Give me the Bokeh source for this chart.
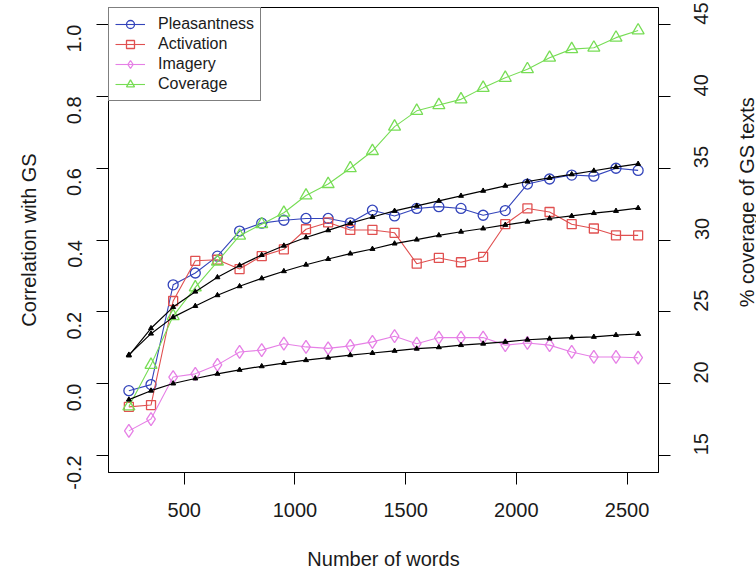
import math
from bokeh.plotting import figure
from bokeh.layouts import row
from bokeh.models import (Range1d, LinearAxis, FixedTicker, Legend, LegendItem,
                          PrintfTickFormatter)
from bokeh.core.properties import value
from bokeh.embed import file_html
from bokeh.resources import INLINE

# ---- data ----
words = [250, 350, 450, 550, 650, 750, 850, 950, 1050, 1150, 1250, 1350,
         1450, 1550, 1650, 1750, 1850, 1950, 2050, 2150, 2250, 2350, 2450, 2550]

pleasantness = [-0.020, -0.003, 0.275, 0.308, 0.355, 0.425, 0.447, 0.455, 0.460, 0.460,
                0.448, 0.483, 0.467, 0.488, 0.493, 0.488, 0.469, 0.482, 0.556, 0.570,
                0.581, 0.578, 0.600, 0.594]
activation = [-0.065, -0.060, 0.230, 0.342, 0.345, 0.319, 0.355, 0.374, 0.430, 0.449,
              0.428, 0.428, 0.420, 0.334, 0.350, 0.338, 0.353, 0.444, 0.488, 0.478,
              0.444, 0.432, 0.413, 0.413]
imagery = [-0.132, -0.099, 0.018, 0.027, 0.052, 0.088, 0.093, 0.111, 0.102, 0.098,
           0.105, 0.116, 0.132, 0.111, 0.128, 0.128, 0.128, 0.107, 0.113, 0.107,
           0.088, 0.074, 0.074, 0.072]
coverage = [18.4, 21.3, 24.7, 26.7, 28.5, 30.3, 31.1, 31.9, 33.1, 33.9, 35.0, 36.2,
            37.9, 39.0, 39.4, 39.8, 40.6, 41.3, 41.9, 42.7, 43.3, 43.4, 44.1, 44.6]

fit_pleasantness = [0.078, 0.154, 0.213, 0.256, 0.296, 0.329, 0.358, 0.384, 0.407, 0.427,
                    0.447, 0.464, 0.481, 0.495, 0.509, 0.523, 0.537, 0.551, 0.563, 0.573,
                    0.583, 0.593, 0.603, 0.612]
fit_activation = [0.080, 0.139, 0.185, 0.216, 0.246, 0.271, 0.293, 0.313, 0.331, 0.347,
                  0.362, 0.375, 0.390, 0.401, 0.413, 0.423, 0.432, 0.442, 0.451, 0.460,
                  0.467, 0.475, 0.481, 0.489]
fit_imagery = [-0.045, -0.020, 0.000, 0.014, 0.027, 0.038, 0.048, 0.057, 0.065, 0.072,
               0.079, 0.085, 0.091, 0.097, 0.101, 0.107, 0.111, 0.116, 0.122, 0.125,
               0.128, 0.130, 0.135, 0.138]

left_ticks = [-0.2, 0.0, 0.2, 0.4, 0.6, 0.8, 1.0]
right_ticks = [15, 20, 25, 30, 35, 40, 45]
x_ticks = [500, 1000, 1500, 2000, 2500]
right_title = "% coverage of GS texts"

FONT = "Liberation Sans"
TXT = "#1a1a1a"
BLUE = "#3344bb"
RED = "#e05050"
VIOLET = "#e680e6"
GREEN = "#77dd55"

FW, FH = 550, 465
TOP, BOTTOM, LEFT, RIGHT = 7, 100, 108, 66
TOTAL_H = TOP + FH + BOTTOM
SIDE_W = 756 - (LEFT + FW + RIGHT)

p = figure(frame_width=FW, frame_height=FH, output_backend="svg", toolbar_location=None,
           x_range=Range1d(158, 2642), y_range=Range1d(-0.248, 1.048),
           min_border_left=LEFT, min_border_right=RIGHT, min_border_top=TOP,
           min_border_bottom=BOTTOM)
p.extra_y_ranges = {"cov": Range1d(13.8, 46.2)}
p.grid.visible = False
p.outline_line_color = "black"
p.outline_line_width = 1
p.background_fill_color = "white"
p.border_fill_color = "white"


def style_axis(ax):
    ax.axis_line_color = "black"
    ax.major_tick_line_color = "black"
    ax.major_tick_out = 12
    ax.major_tick_in = 0
    ax.minor_tick_line_color = None
    ax.major_label_text_font = FONT
    ax.major_label_text_font_size = "20px"
    ax.major_label_text_color = TXT
    ax.axis_label_text_font = FONT
    ax.axis_label_text_font_size = "20px"
    ax.axis_label_text_font_style = "normal"
    ax.axis_label_text_color = TXT


xa = p.xaxis[0]
style_axis(xa)
xa.ticker = FixedTicker(ticks=x_ticks)
xa.axis_label = "Number of words"
xa.major_label_standoff = 18
xa.axis_label_standoff = 28

ya = p.yaxis[0]
style_axis(ya)
ya.ticker = FixedTicker(ticks=left_ticks)
ya.formatter = PrintfTickFormatter(format="%.1f")
ya.major_label_orientation = math.pi / 2
ya.axis_label = "Correlation with GS"
ya.major_label_standoff = 22
ya.axis_label_standoff = 18

ra = LinearAxis(y_range_name="cov", ticker=FixedTicker(ticks=right_ticks))
style_axis(ra)
ra.major_label_orientation = math.pi / 2
ra.major_label_standoff = 31
p.add_layout(ra, "right")

series = [
    ("Pleasantness", pleasantness, BLUE, "circle", 10, "default"),
    ("Activation", activation, RED, "square", 9, "default"),
    ("Imagery", imagery, VIOLET, "diamond", 13, "default"),
    ("Coverage", coverage, GREEN, "triangle", 12, "cov"),
]
items = []
for name, vals, col, mk, sz, rng in series:
    kw = {} if rng == "default" else {"y_range_name": rng}
    lr = p.line(words, vals, line_color=col, line_width=1.1, **kw)
    sr = p.scatter(words, vals, marker=mk, size=sz, fill_color=None,
                   line_color=col, line_width=1.3, **kw)
    items.append(LegendItem(label=name, renderers=[lr, sr]))

for fit in (fit_pleasantness, fit_activation, fit_imagery):
    p.line(words, fit, line_color="black", line_width=1.2)
    p.scatter(words, fit, marker="triangle", size=5, fill_color="black",
              line_color="black")

legend = Legend(items=items, location="top_left", margin=0, padding=6, spacing=0,
                label_height=20, glyph_height=20, glyph_width=30, label_standoff=13,
                border_line_color="black", border_line_width=1,
                background_fill_color="white", background_fill_alpha=1.0,
                label_text_font=FONT, label_text_font_size="16px",
                label_text_color=TXT)
p.add_layout(legend)

# narrow side strip holding the right-hand axis title, reading bottom to top (as in R)
side = figure(width=SIDE_W, height=TOTAL_H, output_backend="svg", toolbar_location=None,
              x_range=Range1d(0, SIDE_W), y_range=Range1d(0, TOTAL_H),
              min_border=0, min_border_left=0, min_border_right=0,
              min_border_top=0, min_border_bottom=0)
side.axis.visible = False
side.grid.visible = False
side.outline_line_color = None
side.background_fill_color = "white"
side.border_fill_color = "white"
side.text(x=[SIDE_W - 10], y=[TOTAL_H - (TOP + FH / 2)], text=[right_title],
          angle=math.pi / 2, text_align="center", text_baseline="middle",
          text_font=value(FONT), text_font_size="20px", text_color=TXT)

layout = row(p, side, spacing=0)
open("out.html", "w").write(file_html(layout, INLINE))
